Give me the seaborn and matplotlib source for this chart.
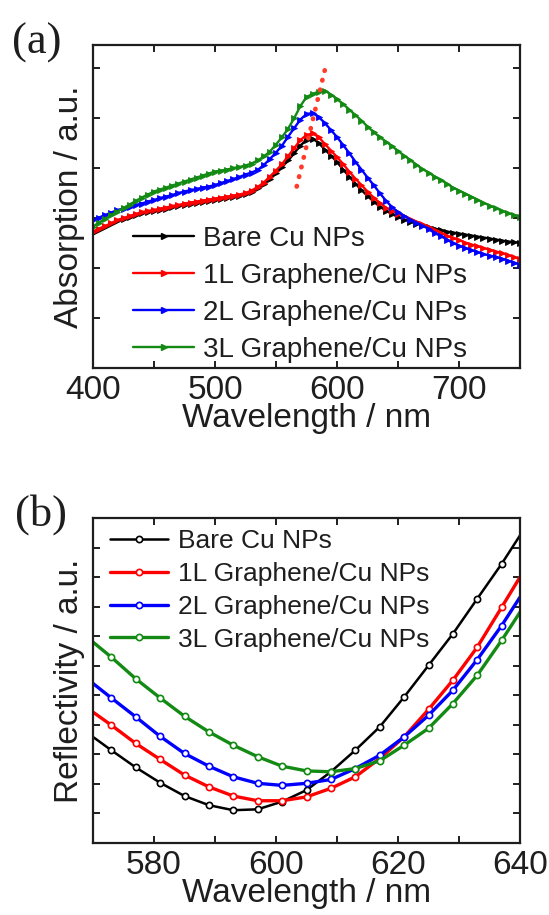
import numpy as np
import pandas as pd
import matplotlib
matplotlib.use("Agg")
import matplotlib.pyplot as plt
import seaborn as sns
from matplotlib.lines import Line2D

# ---------------- data ----------------

labels = ["Bare Cu NPs", "1L Graphene/Cu NPs", "2L Graphene/Cu NPs", "3L Graphene/Cu NPs"]
colors = ["#000000", "#ff0000", "#0000ff", "#138a13"]

# (a) absorption, every 5 nm from 400 to 750
wl_abs = list(range(400, 755, 5))
abs_bare = [2.71, 2.77, 2.82, 2.88, 2.94, 2.98, 3.02, 3.06, 3.10, 3.12, 3.14, 3.17, 3.19, 3.22, 3.24,
            3.27, 3.29, 3.31, 3.33, 3.35, 3.37, 3.39, 3.41, 3.43, 3.45, 3.48, 3.53, 3.60, 3.68, 3.79,
            3.90, 4.02, 4.15, 4.30, 4.45, 4.56, 4.59, 4.50, 4.37, 4.25, 4.12, 3.97, 3.83, 3.69, 3.56,
            3.44, 3.33, 3.23, 3.15, 3.08, 3.02, 2.97, 2.93, 2.89, 2.86, 2.82, 2.79, 2.76, 2.73, 2.71,
            2.69, 2.67, 2.65, 2.63, 2.61, 2.59, 2.57, 2.55, 2.53, 2.52, 2.50]
abs_1l = [2.73, 2.79, 2.84, 2.90, 2.96, 3.00, 3.04, 3.08, 3.12, 3.14, 3.16, 3.19, 3.21, 3.24, 3.26,
          3.29, 3.31, 3.33, 3.35, 3.37, 3.39, 3.41, 3.43, 3.45, 3.47, 3.50, 3.55, 3.62, 3.71, 3.83,
          3.95, 4.08, 4.24, 4.40, 4.56, 4.66, 4.69, 4.62, 4.48, 4.35, 4.22, 4.08, 3.93, 3.79, 3.66,
          3.53, 3.41, 3.30, 3.21, 3.15, 3.09, 3.04, 2.98, 2.93, 2.88, 2.82, 2.76, 2.71, 2.65, 2.60,
          2.56, 2.51, 2.47, 2.44, 2.40, 2.37, 2.33, 2.30, 2.26, 2.22, 2.18]
abs_2l = [2.96, 3.01, 3.06, 3.11, 3.16, 3.19, 3.23, 3.26, 3.29, 3.33, 3.36, 3.40, 3.43, 3.46, 3.50,
          3.53, 3.56, 3.58, 3.61, 3.63, 3.66, 3.70, 3.74, 3.78, 3.82, 3.87, 3.91, 3.96, 4.06, 4.18,
          4.31, 4.45, 4.63, 4.80, 4.97, 5.08, 5.10, 5.02, 4.90, 4.76, 4.62, 4.46, 4.30, 4.13, 3.97,
          3.81, 3.66, 3.50, 3.35, 3.22, 3.12, 3.04, 2.97, 2.91, 2.85, 2.78, 2.70, 2.64, 2.57, 2.50,
          2.45, 2.40, 2.36, 2.32, 2.28, 2.25, 2.22, 2.19, 2.15, 2.11, 2.07]
abs_3l = [2.83, 2.91, 2.98, 3.06, 3.13, 3.20, 3.27, 3.34, 3.41, 3.47, 3.53, 3.57, 3.61, 3.65, 3.69,
          3.73, 3.77, 3.81, 3.85, 3.89, 3.93, 3.95, 3.97, 4.00, 4.02, 4.05, 4.09, 4.15, 4.23, 4.33,
          4.47, 4.62, 4.79, 5.00, 5.24, 5.42, 5.48, 5.53, 5.55, 5.47, 5.38, 5.28, 5.17, 5.06, 4.95,
          4.83, 4.72, 4.62, 4.53, 4.44, 4.34, 4.25, 4.16, 4.07, 3.98, 3.91, 3.83, 3.76, 3.69, 3.61,
          3.55, 3.49, 3.43, 3.37, 3.31, 3.25, 3.20, 3.15, 3.10, 3.06, 3.03]

# peak shift guide in (a)
shift_x = [567, 591]
shift_y = [3.63, 6.06]

# (b) reflectivity, edges plus marker points every 4 nm
wl_ref = [570, 573, 577, 581, 585, 589, 593, 597, 601, 605, 609, 613, 617, 621, 625, 629, 633, 637, 640]
ref_bare = [3.59, 3.14, 2.56, 2.04, 1.59, 1.28, 1.11, 1.14, 1.40, 1.79, 2.41, 3.14, 3.93, 4.94,
            6.01, 7.08, 8.27, 9.45, 10.41]
ref_1l = [4.43, 3.99, 3.37, 2.83, 2.30, 1.90, 1.59, 1.43, 1.43, 1.56, 1.85, 2.24, 2.86, 3.59,
          4.52, 5.51, 6.63, 7.98, 9.00]
ref_2l = [5.40, 4.91, 4.27, 3.61, 3.03, 2.60, 2.24, 2.02, 1.95, 2.02, 2.15, 2.52, 2.97, 3.59,
          4.32, 5.17, 6.21, 7.36, 8.32]
ref_3l = [6.80, 6.29, 5.56, 4.91, 4.29, 3.76, 3.31, 2.92, 2.60, 2.44, 2.41, 2.52, 2.78, 3.31,
          3.88, 4.72, 5.68, 6.86, 7.81]

# ---------------- style ----------------

sns.set_style("ticks")
plt.rcParams['font.family'] = ['Liberation Sans', 'DejaVu Sans']
plt.rcParams['axes.linewidth'] = 1.6
plt.rcParams['text.color'] = '#1e1e1e'
plt.rcParams['axes.labelcolor'] = '#1e1e1e'
plt.rcParams['xtick.color'] = '#1e1e1e'
plt.rcParams['ytick.color'] = '#1e1e1e'

fig = plt.figure(figsize=(5.49, 9.15), dpi=100)
ax_a = fig.add_axes([93 / 549, 1 - 368 / 915, 427 / 549, 323 / 915])
ax_b = fig.add_axes([93 / 549, 1 - 843 / 915, 427 / 549, 325 / 915])


def style_axes(ax):
    ax.tick_params(axis="both", which="both", direction="in", top=True, right=True,
                   width=1.4, labelsize=24, pad=5, length=5)
    ax.tick_params(axis="y", labelleft=False)
    for s in ax.spines.values():
        s.set_color("#1e1e1e")


#-------------- (a) Absorption --------------

for y, c, lab in zip([abs_bare, abs_1l, abs_2l, abs_3l], colors, labels):
    sns.lineplot(x=wl_abs, y=y, ax=ax_a, color=c, linewidth=1.7, marker=">",
                 markersize=4.2, markeredgewidth=0.6, markeredgecolor=c, label=lab, legend=False)

ax_a.plot(shift_x, shift_y, color="#ff3b2a", linewidth=3.4,
          linestyle=(0, (0.1, 2.0)), dash_capstyle="round")

ax_a.set_xlim(400, 750)
ax_a.set_ylim(0, 6.46)
ax_a.set_xticks([400, 500, 600, 700])
ax_a.set_xticks([450, 550, 650, 750], minor=True)
ax_a.set_yticks([1, 2, 3, 4, 5, 6])
style_axes(ax_a)
ax_a.set_xlabel("Wavelength / nm", fontsize=24, labelpad=-2)
ax_a.set_ylabel("Absorption / a.u.", fontsize=24, labelpad=6)

h_a = [Line2D([], [], color=c, linewidth=1.7, marker=">", markersize=4.2) for c in colors]
ax_a.legend(h_a, labels, loc="lower left", bbox_to_anchor=(0.094, 0.015), frameon=False,
            fontsize=20, handlelength=2.2, handletextpad=0.3, labelspacing=0.4,
            borderpad=0, borderaxespad=0, numpoints=1)

#-------------- (b) Reflectivity --------------

for y, c, lab in zip([ref_bare, ref_1l, ref_2l, ref_3l], colors, labels):
    lw = 1.8 if c == "#000000" else 2.4
    sns.lineplot(x=wl_ref, y=y, ax=ax_b, color=c, linewidth=lw, marker="o",
                 markersize=4.5, markerfacecolor="white", markeredgecolor=c,
                 markeredgewidth=1.2, markevery=slice(1, -1), label=lab, legend=False)

ax_b.set_xlim(570, 640)
ax_b.set_ylim(0, 11)
ax_b.set_xticks([580, 600, 620, 640])
ax_b.set_xticks([570, 590, 610, 630], minor=True)
ax_b.set_yticks(list(range(1, 11)))
style_axes(ax_b)
ax_b.set_xlabel("Wavelength / nm", fontsize=24, labelpad=-2)
ax_b.set_ylabel("Reflectivity / a.u.", fontsize=24, labelpad=6)

h_b = []
for c in colors:
    lw = 1.8 if c == "#000000" else 2.4
    h_b.append(Line2D([], [], color=c, linewidth=lw, marker="o", markersize=4.5,
                      markerfacecolor="white", markeredgecolor=c, markeredgewidth=1.2))
ax_b.legend(h_b, labels, loc="upper left", bbox_to_anchor=(0.04, 0.965), frameon=False,
            fontsize=19, handlelength=2.2, handletextpad=0.38, labelspacing=0.33,
            borderpad=0, borderaxespad=0, numpoints=1)

# panel letters
fig.text(12 / 549, 1 - 43 / 915, "(a)", fontsize=32, family="Liberation Serif", va="center")
fig.text(15 / 549, 1 - 515 / 915, "(b)", fontsize=32, family="Liberation Serif", va="center")

fig.savefig("out.png", dpi=100)
